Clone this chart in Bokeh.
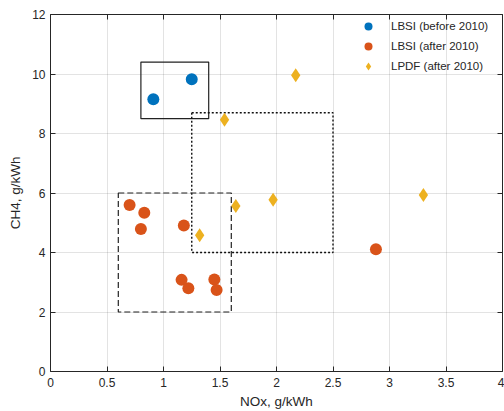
from bokeh.plotting import figure
from bokeh.models import Range1d, LinearAxis, FixedTicker, Legend, LegendItem
from bokeh.embed import file_html
from bokeh.resources import INLINE

# ---- data ----
lbsi_before_nox = [0.91, 1.25]
lbsi_before_ch4 = [9.15, 9.82]

lbsi_after_nox = [0.70, 0.83, 0.80, 1.18, 1.16, 1.22, 1.45, 1.47, 2.88]
lbsi_after_ch4 = [5.60, 5.34, 4.79, 4.91, 3.08, 2.80, 3.09, 2.74, 4.11]

lpdf_after_nox = [1.32, 1.54, 1.64, 1.97, 2.17, 3.30]
lpdf_after_ch4 = [4.58, 8.46, 5.56, 5.77, 9.96, 5.93]

series_labels = ["LBSI (before 2010)", "LBSI (after 2010)", "LPDF (after 2010)"]

# highlighted regions: [LBSI before 2010, LPDF after 2010, LBSI after 2010]
region_left = [0.8, 1.25, 0.6]
region_right = [1.4, 2.5, 1.6]
region_bottom = [8.5, 4.0, 2.0]
region_top = [10.4, 8.7, 6.0]

x_ticks = [0, 0.5, 1, 1.5, 2, 2.5, 3, 3.5, 4]
x_tick_labels = ["0", "0.5", "1", "1.5", "2", "2.5", "3", "3.5", "4"]
y_ticks = [0, 2, 4, 6, 8, 10, 12]
y_tick_labels = ["0", "2", "4", "6", "8", "10", "12"]

x_label = "NOx, g/kWh"
y_label = "CH4, g/kWh"

# ---- styles ----
FONT = "Liberation Sans"
AX = "#262626"
BLUE = "#0072BD"
ORANGE = "#D95319"
YELLOW = "#EDB120"

p = figure(width=504, height=411, output_backend="svg", toolbar_location=None,
           x_range=Range1d(0, 4), y_range=Range1d(0, 12),
           min_border_left=50, min_border_right=2, min_border_top=14, min_border_bottom=40)
p.outline_line_color = None
p.background_fill_color = "white"
p.border_fill_color = "white"

xt = FixedTicker(ticks=x_ticks)
yt = FixedTicker(ticks=y_ticks)

for ax in p.xaxis:
    ax.ticker = xt
    ax.major_label_overrides = {t: s for t, s in zip(x_ticks, x_tick_labels)}
    ax.axis_label = x_label
    ax.axis_label_standoff = 4
    ax.major_label_standoff = 6
for ax in p.yaxis:
    ax.ticker = yt
    ax.major_label_overrides = {t: s for t, s in zip(y_ticks, y_tick_labels)}
    ax.axis_label = y_label
    ax.axis_label_standoff = 6
    ax.major_label_standoff = 5

for ax in list(p.xaxis) + list(p.yaxis):
    ax.axis_line_color = AX
    ax.axis_line_width = 1
    ax.major_tick_line_color = AX
    ax.major_tick_in = 5
    ax.major_tick_out = 0
    ax.minor_tick_line_color = None
    ax.major_label_text_font = FONT
    ax.major_label_text_font_size = "12px"
    ax.major_label_text_color = AX
    ax.axis_label_text_font = FONT
    ax.axis_label_text_font_size = "13.5px"
    ax.axis_label_text_font_style = "normal"
    ax.axis_label_text_color = AX

# box axes (top, right) with inward ticks and no labels
for loc, tk, tks in (("right", yt, y_ticks), ("above", xt, x_ticks)):
    a = LinearAxis(ticker=tk, major_label_overrides={t: "" for t in tks},
                   major_label_text_font_size="1px", major_label_standoff=0,
                   major_tick_in=5, major_tick_out=0, minor_tick_line_color=None,
                   axis_line_color=AX, major_tick_line_color=AX)
    p.add_layout(a, loc)

p.xgrid.ticker = xt
p.ygrid.ticker = yt
for g in (p.xgrid[0], p.ygrid[0]):
    g.grid_line_color = AX
    g.grid_line_alpha = 0.13
    g.grid_line_width = 1

# regions
p.quad(left=[region_left[0]], right=[region_right[0]], bottom=[region_bottom[0]], top=[region_top[0]],
       fill_alpha=0, line_color="#222222", line_width=1.2)
p.quad(left=[region_left[1]], right=[region_right[1]], bottom=[region_bottom[1]], top=[region_top[1]],
       fill_alpha=0, line_color="#111111", line_width=1.4, line_dash="2 2")
p.quad(left=[region_left[2]], right=[region_right[2]], bottom=[region_bottom[2]], top=[region_top[2]],
       fill_alpha=0, line_color="#222222", line_width=1.2, line_dash="6 3")

r1 = p.scatter(lbsi_before_nox, lbsi_before_ch4, marker="circle", size=12,
               fill_color=BLUE, line_color=None)
r2 = p.scatter(lbsi_after_nox, lbsi_after_ch4, marker="circle", size=12,
               fill_color=ORANGE, line_color=None)
r3 = p.scatter(lpdf_after_nox, lpdf_after_ch4, marker="diamond", size=14,
               fill_color=YELLOW, line_color=None)

legend = Legend(items=[LegendItem(label=series_labels[0], renderers=[r1]),
                       LegendItem(label=series_labels[1], renderers=[r2]),
                       LegendItem(label=series_labels[2], renderers=[r3])],
                location=(308, 295), padding=0, margin=0, spacing=-4,
                glyph_width=20, glyph_height=20, label_height=16, label_standoff=13,
                label_text_font=FONT, label_text_font_size="11.5px", label_text_color=AX,
                background_fill_alpha=0, border_line_alpha=0)
p.add_layout(legend)

open("out.html", "w").write(file_html(p, INLINE))
